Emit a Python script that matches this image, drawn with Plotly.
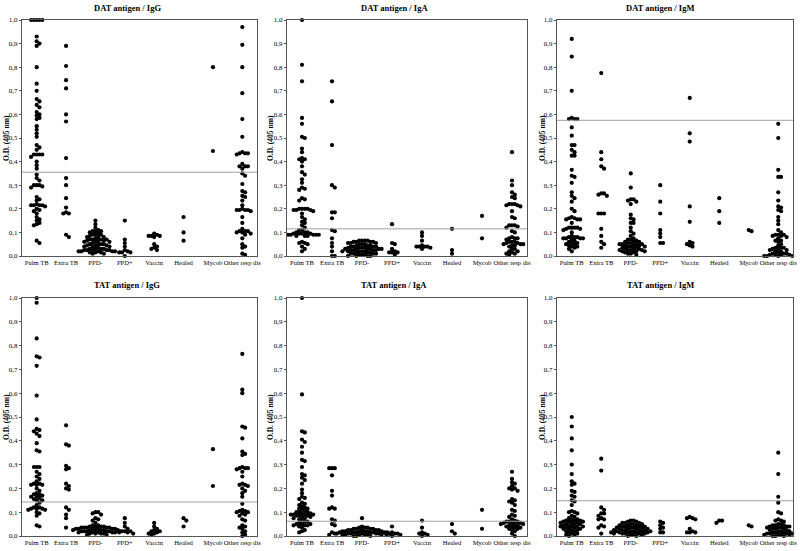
import plotly.graph_objects as go

categories = ["Pulm TB", "Extra TB", "PPD-", "PPD+", "Vaccin", "Healed", "Mycob", "Other resp dis"]
y_ticks = [0.0, 0.1, 0.2, 0.3, 0.4, 0.5, 0.6, 0.7, 0.8, 0.9, 1.0]
y_tick_labels = ["0,0", "0,1", "0,2", "0,3", "0,4", "0,5", "0,6", "0,7", "0,8", "0,9", "1,0"]
titles = ["DAT antigen / IgG", "DAT antigen / IgA", "DAT antigen / IgM",
          "TAT antigen / IgG", "TAT antigen / IgA", "TAT antigen / IgM"]
cutoffs = [0.355, 0.115, 0.575, 0.143, 0.062, 0.148]

dat_igg = [
    [1.0, 1.0, 1.0, 1.0, 1.0, 0.93, 0.91, 0.90, 0.89, 0.80, 0.73, 0.70, 0.665, 0.655, 0.64, 0.63,
     0.61, 0.60, 0.595, 0.585, 0.58, 0.55, 0.535, 0.52, 0.505, 0.47, 0.46, 0.45, 0.43, 0.43, 0.43, 0.43,
     0.42, 0.40, 0.385, 0.37, 0.345, 0.33, 0.32, 0.30, 0.30, 0.30, 0.295, 0.29, 0.25, 0.24, 0.235,
     0.22, 0.215, 0.215, 0.215, 0.215, 0.21, 0.20, 0.195, 0.19, 0.18, 0.165, 0.155, 0.15, 0.14,
     0.135, 0.13, 0.065, 0.055],
    [0.89, 0.805, 0.745, 0.71, 0.60, 0.57, 0.415, 0.33, 0.30, 0.245, 0.205, 0.185, 0.18, 0.18, 0.09, 0.08],
    [0.15, 0.135, 0.12, 0.11, 0.105, 0.105, 0.105, 0.10, 0.095, 0.09, 0.09, 0.09, 0.085, 0.08, 0.08, 0.08,
     0.075, 0.07, 0.07, 0.07, 0.07, 0.065, 0.065, 0.065, 0.06, 0.06, 0.06, 0.055, 0.05, 0.05, 0.05, 0.05,
     0.045, 0.045, 0.045, 0.04, 0.04, 0.04, 0.035, 0.03, 0.03, 0.03, 0.03, 0.025, 0.025, 0.025, 0.025,
     0.025, 0.02, 0.02, 0.02, 0.02, 0.02, 0.015, 0.015, 0.015, 0.01, 0.01],
    [0.15, 0.07, 0.055, 0.04, 0.025, 0.02, 0.015, 0.015, 0.015, 0.0],
    [0.095, 0.09, 0.085, 0.085, 0.085, 0.08, 0.05, 0.04, 0.035, 0.03, 0.025],
    [0.165, 0.10, 0.065],
    [0.80, 0.445],
    [0.97, 0.895, 0.80, 0.69, 0.58, 0.505, 0.44, 0.435, 0.435, 0.435, 0.43, 0.39, 0.38, 0.38, 0.38, 0.37,
     0.35, 0.34, 0.305, 0.275, 0.27, 0.255, 0.25, 0.235, 0.215, 0.20, 0.195, 0.195, 0.195, 0.195, 0.19,
     0.165, 0.14, 0.115, 0.105, 0.105, 0.105, 0.10, 0.10, 0.095, 0.09, 0.075, 0.05, 0.04, 0.035, 0.01, 0.005],
]

dat_iga = [
    [1.0, 0.81, 0.74, 0.585, 0.56, 0.505, 0.50, 0.455, 0.44, 0.415, 0.41, 0.41, 0.40, 0.38, 0.355, 0.345,
     0.325, 0.31, 0.29, 0.285, 0.28, 0.245, 0.24, 0.235, 0.20, 0.20, 0.20, 0.20, 0.195, 0.195, 0.195,
     0.19, 0.18, 0.165, 0.155, 0.145, 0.14, 0.13, 0.12, 0.11, 0.11, 0.10, 0.10, 0.10, 0.095, 0.095,
     0.095, 0.095, 0.09, 0.09, 0.09, 0.09, 0.09, 0.085, 0.085, 0.085, 0.06, 0.055, 0.055, 0.05, 0.04,
     0.03, 0.02],
    [0.74, 0.655, 0.47, 0.30, 0.29, 0.185, 0.185, 0.16, 0.11, 0.105, 0.075, 0.055, 0.04, 0.02, 0.0, 0.0],
    [0.065, 0.065, 0.065, 0.065, 0.06, 0.06, 0.06, 0.06, 0.055, 0.055, 0.055, 0.05, 0.05, 0.05, 0.045,
     0.045, 0.045, 0.04, 0.04, 0.04, 0.04, 0.035, 0.035, 0.035, 0.035, 0.03, 0.03, 0.03, 0.03, 0.03, 0.03,
     0.025, 0.025, 0.025, 0.025, 0.02, 0.02, 0.02, 0.02, 0.02, 0.015, 0.015, 0.015, 0.01, 0.01, 0.01,
     0.01, 0.005, 0.005, 0.005, 0.0, 0.0, 0.0, 0.0],
    [0.135, 0.055, 0.05, 0.03, 0.02, 0.015, 0.015, 0.015, 0.005],
    [0.10, 0.085, 0.065, 0.045, 0.04, 0.04, 0.04, 0.04, 0.035, 0.03],
    [0.115, 0.025, 0.01],
    [0.17, 0.075],
    [0.44, 0.32, 0.30, 0.27, 0.26, 0.25, 0.245, 0.22, 0.22, 0.22, 0.215, 0.215, 0.21, 0.19, 0.165, 0.16,
     0.13, 0.13, 0.13, 0.125, 0.12, 0.105, 0.10, 0.08, 0.075, 0.075, 0.075, 0.07, 0.06, 0.06, 0.06,
     0.055, 0.055, 0.05, 0.05, 0.05, 0.045, 0.045, 0.04, 0.03, 0.03, 0.02, 0.02, 0.015, 0.01, 0.01, 0.005],
]

dat_igm = [
    [0.92, 0.845, 0.70, 0.585, 0.58, 0.58, 0.58, 0.545, 0.51, 0.47, 0.47, 0.45, 0.44, 0.425, 0.425, 0.365,
     0.34, 0.335, 0.31, 0.27, 0.255, 0.245, 0.23, 0.20, 0.19, 0.165, 0.16, 0.16, 0.155, 0.155, 0.155,
     0.14, 0.12, 0.12, 0.12, 0.12, 0.115, 0.115, 0.11, 0.10, 0.085, 0.08, 0.08, 0.08, 0.075, 0.075,
     0.075, 0.075, 0.07, 0.065, 0.06, 0.055, 0.055, 0.05, 0.05, 0.045, 0.04, 0.04, 0.035, 0.03, 0.02],
    [0.775, 0.44, 0.41, 0.38, 0.37, 0.265, 0.265, 0.26, 0.255, 0.18, 0.18, 0.18, 0.115, 0.085, 0.06, 0.05, 0.035],
    [0.35, 0.29, 0.24, 0.24, 0.235, 0.23, 0.22, 0.175, 0.16, 0.155, 0.14, 0.14, 0.12, 0.105, 0.095, 0.085,
     0.075, 0.07, 0.07, 0.065, 0.06, 0.06, 0.06, 0.055, 0.055, 0.05, 0.05, 0.05, 0.05, 0.045, 0.045, 0.045,
     0.04, 0.04, 0.04, 0.035, 0.035, 0.03, 0.03, 0.03, 0.025, 0.025, 0.025, 0.025, 0.02, 0.02, 0.02,
     0.015, 0.015, 0.01, 0.01, 0.005],
    [0.30, 0.23, 0.18, 0.11, 0.095, 0.08, 0.055, 0.055],
    [0.67, 0.52, 0.485, 0.21, 0.145, 0.06, 0.055, 0.05, 0.045, 0.04],
    [0.245, 0.19, 0.14],
    [0.11, 0.105],
    [0.56, 0.50, 0.365, 0.335, 0.335, 0.27, 0.235, 0.21, 0.205, 0.195, 0.19, 0.165, 0.15, 0.135, 0.11, 0.10,
     0.09, 0.09, 0.09, 0.085, 0.085, 0.08, 0.075, 0.065, 0.065, 0.06, 0.05, 0.045, 0.035, 0.035, 0.035,
     0.03, 0.03, 0.025, 0.025, 0.02, 0.02, 0.015, 0.01, 0.01, 0.01, 0.005, 0.005, 0.005, 0.005,
     0.0, 0.0, 0.0, 0.0],
]

tat_igg = [
    [1.0, 0.98, 0.83, 0.755, 0.75, 0.715, 0.59, 0.49, 0.45, 0.445, 0.44, 0.43, 0.42, 0.39, 0.36, 0.355,
     0.29, 0.29, 0.29, 0.27, 0.26, 0.25, 0.24, 0.23, 0.22, 0.22, 0.215, 0.215, 0.215, 0.20, 0.19, 0.18,
     0.175, 0.175, 0.17, 0.165, 0.165, 0.16, 0.155, 0.15, 0.15, 0.14, 0.13, 0.12, 0.12, 0.115, 0.115,
     0.115, 0.11, 0.11, 0.10, 0.095, 0.085, 0.045, 0.04],
    [0.465, 0.385, 0.38, 0.295, 0.285, 0.28, 0.22, 0.21, 0.20, 0.195, 0.12, 0.11, 0.09, 0.075, 0.035],
    [0.10, 0.10, 0.095, 0.09, 0.075, 0.07, 0.065, 0.055, 0.045, 0.045, 0.04, 0.04, 0.04, 0.04, 0.035,
     0.035, 0.035, 0.035, 0.035, 0.03, 0.03, 0.03, 0.03, 0.03, 0.03, 0.025, 0.025, 0.025, 0.025, 0.025,
     0.025, 0.02, 0.02, 0.02, 0.02, 0.02, 0.02, 0.015, 0.015, 0.015, 0.015, 0.015, 0.01, 0.01, 0.01,
     0.01, 0.005, 0.005],
    [0.075, 0.055, 0.04, 0.03, 0.02, 0.02, 0.02, 0.015, 0.015, 0.01],
    [0.055, 0.04, 0.03, 0.025, 0.02, 0.02, 0.015, 0.01, 0.01, 0.005],
    [0.075, 0.065, 0.04],
    [0.365, 0.21],
    [0.765, 0.615, 0.60, 0.46, 0.455, 0.41, 0.355, 0.345, 0.34, 0.29, 0.285, 0.285, 0.285, 0.28, 0.27,
     0.25, 0.22, 0.215, 0.215, 0.21, 0.20, 0.19, 0.18, 0.165, 0.135, 0.11, 0.105, 0.105, 0.10, 0.10,
     0.095, 0.09, 0.085, 0.07, 0.065, 0.045, 0.04, 0.035, 0.03, 0.02, 0.015, 0.005, 0.0],
]

tat_iga = [
    [1.0, 0.595, 0.44, 0.435, 0.405, 0.395, 0.375, 0.35, 0.32, 0.315, 0.29, 0.26, 0.255, 0.245, 0.235,
     0.22, 0.195, 0.18, 0.165, 0.16, 0.155, 0.14, 0.135, 0.13, 0.125, 0.12, 0.115, 0.115, 0.11, 0.105,
     0.10, 0.10, 0.10, 0.095, 0.095, 0.09, 0.09, 0.09, 0.09, 0.085, 0.085, 0.085, 0.08, 0.08, 0.075,
     0.075, 0.07, 0.065, 0.06, 0.06, 0.055, 0.05, 0.05, 0.05, 0.045, 0.045, 0.045, 0.04, 0.035, 0.025,
     0.02, 0.015],
    [0.285, 0.285, 0.285, 0.255, 0.19, 0.17, 0.12, 0.115, 0.115, 0.07, 0.065, 0.05, 0.045, 0.015, 0.01, 0.005],
    [0.075, 0.04, 0.035, 0.035, 0.035, 0.03, 0.03, 0.03, 0.03, 0.025, 0.025, 0.025, 0.025, 0.025, 0.02,
     0.02, 0.02, 0.02, 0.02, 0.02, 0.015, 0.015, 0.015, 0.015, 0.015, 0.015, 0.015, 0.01, 0.01, 0.01,
     0.01, 0.01, 0.01, 0.01, 0.005, 0.005, 0.005, 0.005, 0.005, 0.005, 0.0, 0.0, 0.0],
    [0.04, 0.015, 0.01, 0.01, 0.01, 0.005, 0.005, 0.0],
    [0.065, 0.035, 0.015, 0.01, 0.01, 0.005, 0.0],
    [0.05, 0.02, 0.01],
    [0.11, 0.03],
    [0.27, 0.24, 0.225, 0.22, 0.21, 0.20, 0.20, 0.195, 0.19, 0.155, 0.15, 0.145, 0.14, 0.13, 0.11, 0.105,
     0.09, 0.085, 0.08, 0.07, 0.065, 0.06, 0.06, 0.06, 0.055, 0.055, 0.055, 0.05, 0.05, 0.05, 0.045,
     0.045, 0.04, 0.04, 0.035, 0.035, 0.03, 0.03, 0.025, 0.02, 0.01, 0.0],
]

tat_igm = [
    [0.50, 0.46, 0.41, 0.36, 0.30, 0.26, 0.23, 0.22, 0.215, 0.19, 0.185, 0.17, 0.165, 0.15, 0.145, 0.13,
     0.105, 0.10, 0.10, 0.095, 0.085, 0.08, 0.075, 0.07, 0.07, 0.065, 0.065, 0.065, 0.06, 0.06, 0.06,
     0.055, 0.055, 0.055, 0.05, 0.05, 0.05, 0.045, 0.045, 0.04, 0.04, 0.04, 0.04, 0.035, 0.035, 0.03,
     0.03, 0.03, 0.025, 0.025, 0.02, 0.02, 0.015, 0.01, 0.01, 0.005, 0.005, 0.0],
    [0.325, 0.275, 0.12, 0.11, 0.095, 0.095, 0.085, 0.075, 0.07, 0.07, 0.045, 0.04, 0.035, 0.01],
    [0.065, 0.065, 0.06, 0.06, 0.055, 0.055, 0.055, 0.05, 0.05, 0.05, 0.045, 0.045, 0.045, 0.04, 0.04,
     0.04, 0.04, 0.035, 0.035, 0.035, 0.035, 0.03, 0.03, 0.03, 0.03, 0.025, 0.025, 0.025, 0.025, 0.025,
     0.02, 0.02, 0.02, 0.02, 0.02, 0.015, 0.015, 0.015, 0.015, 0.015, 0.01, 0.01, 0.01, 0.01, 0.01,
     0.005, 0.005, 0.005, 0.0, 0.0],
    [0.06, 0.055, 0.045, 0.035, 0.03, 0.015, 0.015],
    [0.08, 0.075, 0.075, 0.07, 0.03, 0.02, 0.015, 0.015, 0.015],
    [0.065, 0.065, 0.055],
    [0.045, 0.04],
    [0.35, 0.26, 0.165, 0.14, 0.10, 0.095, 0.07, 0.065, 0.065, 0.06, 0.05, 0.05, 0.045, 0.045, 0.045,
     0.04, 0.04, 0.04, 0.035, 0.035, 0.035, 0.03, 0.03, 0.03, 0.025, 0.025, 0.02, 0.02, 0.02, 0.015,
     0.015, 0.015, 0.01, 0.01, 0.01, 0.01, 0.005, 0.005, 0.005, 0.005, 0.0, 0.0, 0.0],
]

panels = [dat_igg, dat_iga, dat_igm, tat_igg, tat_iga, tat_igm]

W, H = 800, 551
col_px = [(22, 257), (287, 527), (557, 793)]
row_px = [(20, 256), (298, 536)]
title_x_px = [127, 394, 660]
ytitle_x_px = [6, 270, 542]
title_y_px = [8, 285]
ytick_font = dict(family="Liberation Serif", size=7, color="black")
xtick_font = dict(family="Liberation Serif", size=6.6, color="black")


def swarm(vals, px_per_cat, px_per_unit, d=2.4, step=2.8):
    order = sorted(range(len(vals)), key=lambda i: -vals[i])
    placed = []
    offs = [0.0] * len(vals)
    cands = [0.0]
    for k in range(1, 40):
        cands += [k * step, -k * step]
    for i in order:
        yp = vals[i] * px_per_unit
        for c in cands:
            if all((c - px) ** 2 + (yp - py) ** 2 >= d * d for px, py in placed):
                break
        placed.append((c, yp))
        offs[i] = c / px_per_cat
    return offs


fig = go.Figure()
layout_axes = {}
annotations = []
shapes = []

for p, data in enumerate(panels):
    r, c = divmod(p, 3)
    x0, x1 = col_px[c]
    y0, y1 = row_px[r]
    idx = p + 1
    xa = "x" if idx == 1 else f"x{idx}"
    ya = "y" if idx == 1 else f"y{idx}"
    px_per_cat = (x1 - x0) / 8.0
    px_per_unit = (y1 - y0)
    xs, ys = [], []
    for ci, vals in enumerate(data):
        offs = swarm(vals, px_per_cat, px_per_unit)
        xs += [ci + o for o in offs]
        ys += vals
    fig.add_trace(go.Scatter(
        x=xs, y=ys, mode="markers", xaxis=xa, yaxis=ya, cliponaxis=False,
        marker=dict(color="black", size=4.2, line=dict(width=0)),
        showlegend=False, hoverinfo="y"))
    key = "" if idx == 1 else str(idx)
    layout_axes["xaxis" + key] = dict(
        domain=[x0 / W, x1 / W], anchor=ya, range=[-0.5, 7.5],
        tickvals=list(range(len(categories))), ticktext=categories,
        tickfont=xtick_font, tickangle=0, showgrid=False, zeroline=False,
        showline=True, linecolor="#555", linewidth=1, mirror=True,
        ticks="", ticklen=0, automargin=False, fixedrange=True)
    layout_axes["yaxis" + key] = dict(
        domain=[1 - y1 / H, 1 - y0 / H], anchor=xa, range=[0, 1],
        tickvals=y_ticks, ticktext=y_tick_labels, tickfont=ytick_font,
        showgrid=False, zeroline=False, showline=True, linecolor="#555",
        linewidth=1, mirror=True, ticks="outside", ticklen=2, tickcolor="#555",
        automargin=False, fixedrange=True)
    shapes.append(dict(type="line", xref=f"{xa} domain", yref=ya, x0=0, x1=1,
                       y0=cutoffs[p], y1=cutoffs[p],
                       line=dict(color="#a0a0a0", width=1)))
    annotations.append(dict(
        text=f"<b>{titles[p]}</b>", xref="paper", yref="paper",
        x=title_x_px[c] / W, y=1 - title_y_px[r] / H, showarrow=False,
        xanchor="center", yanchor="middle",
        font=dict(family="Liberation Serif", size=8.5, color="black")))
    annotations.append(dict(
        text="<b>O.D. (405 nm)</b>", xref="paper", yref="paper",
        x=ytitle_x_px[c] / W, y=1 - ((y0 + y1) / 2) / H, showarrow=False,
        textangle=-90, xanchor="center", yanchor="middle",
        font=dict(family="Liberation Serif", size=7.5, color="black")))

fig.update_layout(
    width=W, height=H, margin=dict(l=0, r=0, t=0, b=0),
    paper_bgcolor="white", plot_bgcolor="white",
    annotations=annotations, shapes=shapes, **layout_axes)

fig.write_html("out.html", config={"displayModeBar": False},
               post_script="document.body.style.margin='0';document.body.style.overflow='hidden';")
